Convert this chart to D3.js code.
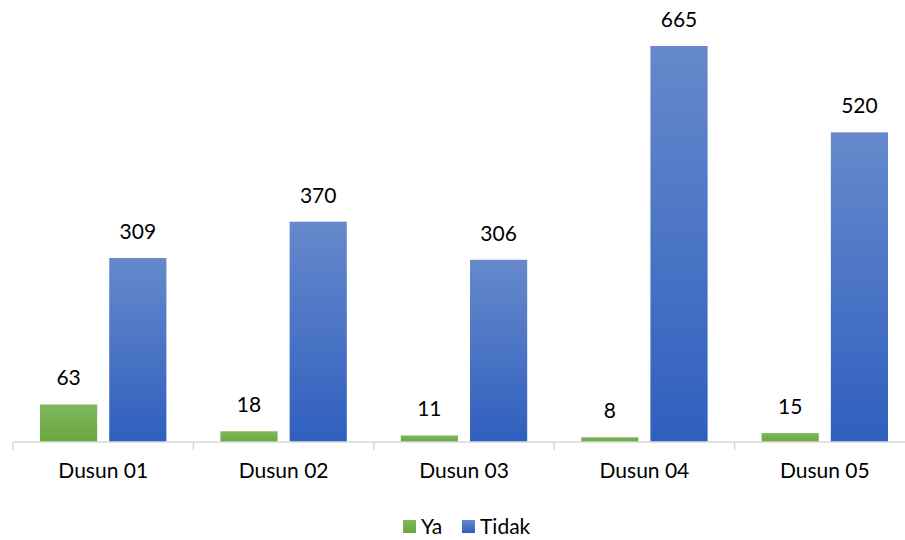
<!DOCTYPE html>
<html>
<head>
<meta charset="utf-8">
<script src="https://cdn.jsdelivr.net/npm/d3@7"></script>
<style>
  body { margin: 0; background: #fff; }
  svg { display: block; font-family: Lato, "Open Sans", sans-serif; }
</style>
</head>
<body>
<div class="container"></div>
<script>
const width = 905;
const height = 540;

const categories = ["Dusun 01", "Dusun 02", "Dusun 03", "Dusun 04", "Dusun 05"];
const seriesNames = ["Ya", "Tidak"];
const ya = [63, 18, 11, 8, 15];
const tidak = [309, 370, 306, 665, 520];

const colors = {
  Ya: ["#80b862", "#68a83a"],
  Tidak: ["#6689cc", "#2f5fbe"]
};

const margin = {top: 46, left: 13, bottom: 98};
const baseY = height - margin.bottom;

const x = d3.scaleBand()
  .domain(categories)
  .range([margin.left, margin.left + 180.4 * categories.length])
  .paddingInner(0)
  .paddingOuter(0);

const x1 = d3.scaleBand()
  .domain(seriesNames)
  .range([0, x.bandwidth()])
  .paddingInner(0.174)
  .paddingOuter(0.39);

const y = d3.scaleLinear()
  .domain([0, 665])
  .range([baseY, margin.top]);

const svg = d3.select(".container")
  .append("svg")
  .attr("width", width)
  .attr("height", height);

const defs = svg.append("defs");
seriesNames.forEach(s => {
  const g = defs.append("linearGradient")
    .attr("id", "grad-" + s)
    .attr("x1", 0).attr("y1", 0).attr("x2", 0).attr("y2", 1);
  g.append("stop").attr("offset", "0%").attr("stop-color", colors[s][0]);
  g.append("stop").attr("offset", "100%").attr("stop-color", colors[s][1]);
});

const rows = categories.map((c, i) => ({cat: c, values: [
  {key: "Ya", value: ya[i]},
  {key: "Tidak", value: tidak[i]}
]}));

const group = svg.append("g")
  .selectAll("g")
  .data(rows)
  .join("g")
    .attr("transform", d => `translate(${x(d.cat)},0)`);

group.selectAll("rect")
  .data(d => d.values)
  .join("rect")
    .attr("x", d => x1(d.key))
    .attr("y", d => y(d.value))
    .attr("width", x1.bandwidth())
    .attr("height", d => baseY - y(d.value))
    .attr("fill", d => `url(#grad-${d.key})`);

group.selectAll("text")
  .data(d => d.values)
  .join("text")
    .attr("x", d => x1(d.key) + x1.bandwidth() / 2)
    .attr("y", d => y(d.value) - 19)
    .attr("text-anchor", "middle")
    .style("font-size", "21px")
    .style("fill", "#000")
    .text(d => d.value);

// category axis
const axis = svg.append("g")
  .attr("transform", `translate(0,${baseY})`)
  .call(d3.axisBottom(x).tickSize(0).tickPadding(21));
axis.select(".domain").remove();
axis.selectAll("text")
  .style("font-size", "21px")
  .style("font-family", "Lato, 'Open Sans', sans-serif")
  .attr("fill", "#000");

axis.append("line")
  .attr("x1", x.range()[0]).attr("x2", x.range()[1])
  .attr("y1", 0).attr("y2", 0)
  .attr("stroke", "#d9d9d9").attr("stroke-width", 1.5);

axis.selectAll(".sep")
  .data(categories.concat(["end"]))
  .join("line")
    .attr("class", "sep")
    .attr("x1", (d, i) => x.range()[0] + i * x.step())
    .attr("x2", (d, i) => x.range()[0] + i * x.step())
    .attr("y1", 0).attr("y2", 8)
    .attr("stroke", "#d9d9d9").attr("stroke-width", 1.5);

// legend
const legend = svg.append("g")
  .attr("transform", `translate(403,${height - 20})`);
const legendX = [0, 59];
seriesNames.forEach((s, i) => {
  const item = legend.append("g").attr("transform", `translate(${legendX[i]},0)`);
  item.append("rect")
    .attr("x", 0).attr("y", 0)
    .attr("width", 13).attr("height", 13)
    .attr("fill", `url(#grad-${s})`);
  item.append("text")
    .attr("x", 18).attr("y", 14)
    .style("font-size", "21px")
    .style("fill", "#000")
    .text(s);
});
</script>
</body>
</html>
